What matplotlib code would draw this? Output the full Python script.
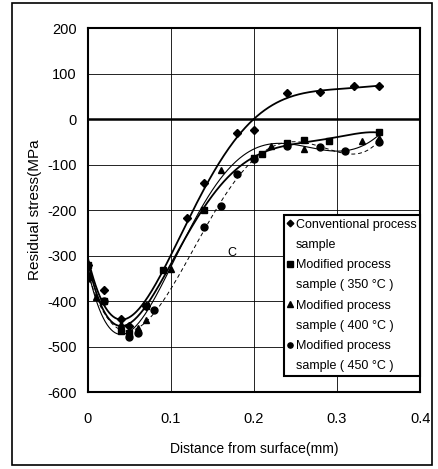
import numpy as np
import matplotlib
matplotlib.use("Agg")
import matplotlib.pyplot as plt
from matplotlib.patches import Rectangle
from matplotlib.lines import Line2D

plt.rcParams['font.family'] = ['Liberation Sans', 'DejaVu Sans']
plt.rcParams['axes.unicode_minus'] = False

# Data
conv_x = [0.0, 0.02, 0.04, 0.05, 0.07, 0.12, 0.14, 0.18, 0.20, 0.24, 0.28, 0.32, 0.35]
conv_y = [-320, -375, -440, -455, -410, -218, -141, -31, -24, 57, 59, 72, 72]

m350_x = [0.0, 0.02, 0.04, 0.05, 0.07, 0.09, 0.14, 0.20, 0.21, 0.24, 0.26, 0.29, 0.35]
m350_y = [-320, -400, -465, -470, -410, -332, -200, -86, -77, -53, -46, -48, -29]

m400_x = [0.0, 0.01, 0.04, 0.06, 0.07, 0.10, 0.16, 0.22, 0.24, 0.26, 0.33, 0.35]
m400_y = [-340, -390, -450, -460, -442, -330, -112, -60, -55, -66, -48, -42]

m450_x = [0.0, 0.02, 0.05, 0.06, 0.08, 0.14, 0.16, 0.18, 0.20, 0.24, 0.28, 0.31, 0.35]
m450_y = [-350, -400, -480, -470, -420, -237, -190, -121, -88, -58, -62, -70, -50]

label_first = ["Conventional process", "Modified process",
               "Modified process", "Modified process"]
label_second = ["sample", "sample ( 350 \u00b0C )",
                "sample ( 400 \u00b0C )", "sample ( 450 \u00b0C )"]
xticks = [0, 0.1, 0.2, 0.3, 0.4]
yticks = [200, 100, 0, -100, -200, -300, -400, -500, -600]

fig = plt.figure(figsize=(4.39, 4.69), dpi=100)
fig.patches.append(Rectangle((0.027, 0.008), 0.958, 0.985, transform=fig.transFigure,
                             fill=False, edgecolor='black', linewidth=1.2))
ax = fig.add_axes([0.200, 0.164, 0.757, 0.776])

series = [(conv_x, conv_y, 'D', 4.5, '-', 1.3, 5),
          (m350_x, m350_y, 's', 5, '-', 1.3, 5),
          (m400_x, m400_y, '^', 5, '-', 0.8, 5),
          (m450_x, m450_y, 'o', 5, (0, (4, 3)), 0.7, 5)]
xs = np.linspace(0, 0.35, 300)
handles, texts = [], []
for (x, y, mk, ms, ls, lw, deg), l1, l2 in zip(series, label_first, label_second):
    c = np.polyfit(x, y, deg)
    ax.plot(xs, np.polyval(c, xs), color='black', linestyle=ls, linewidth=lw, zorder=3)
    ax.plot(x, y, linestyle='none', marker=mk, color='black', markersize=ms, zorder=4)
    handles += [Line2D([], [], linestyle='none', marker=mk, color='black', markersize=ms * 0.75),
                Line2D([], [], linestyle='none', marker='none')]
    texts += [l1, l2]

ax.axhline(0, color='black', linewidth=1.8, zorder=2)
ax.set_xlim(0, 0.4)
ax.set_ylim(-600, 200)
ax.set_xticks(xticks)
ax.set_xticklabels(['0', '0.1', '0.2', '0.3', '0.4'])
ax.set_yticks(yticks)
ax.set_yticklabels([str(v) for v in yticks])
ax.tick_params(axis='x', length=0, labelsize=10.5, pad=14)
ax.tick_params(axis='y', length=0, labelsize=10.5, pad=8)
ax.grid(True, color='black', linewidth=0.6)
for s in ax.spines.values():
    s.set_linewidth(1.5)

ax.set_xlabel('Distance from surface(mm)', fontsize=10, labelpad=12)
ax.set_ylabel('Residual stress(MPa', fontsize=11, labelpad=4)
ax.text(0.168, -300, 'C', fontsize=9)

leg = ax.legend(handles, texts, loc='lower right', bbox_to_anchor=(1.0, 0.044),
                borderaxespad=0, fontsize=9, frameon=True, fancybox=False,
                handlelength=0.4, handletextpad=0.25, labelspacing=0.66, borderpad=0.3)
leg.get_frame().set_edgecolor('black')
leg.get_frame().set_linewidth(1.5)
leg.get_frame().set_alpha(1)

fig.savefig('out.png', dpi=100)
